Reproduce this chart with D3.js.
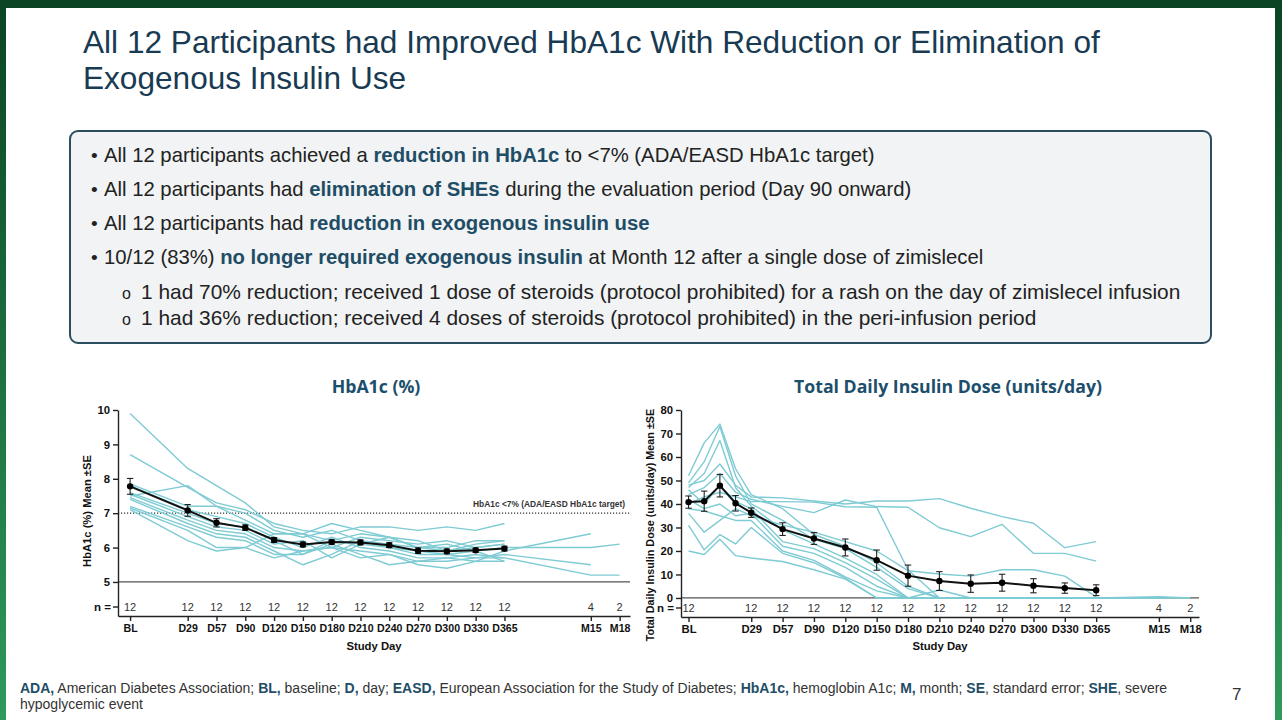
<!DOCTYPE html>
<html>
<head>
<meta charset="utf-8">
<script src="https://cdn.jsdelivr.net/npm/d3@7"></script>
<style>
  html, body { margin: 0; padding: 0; background: #fff; }
  svg { display: block; font-family: "Liberation Sans", Arial, sans-serif; }
</style>
</head>
<body>
<svg id="slide" width="1282" height="720"></svg>
<script>
// ---- text content ----
const titleLines = [
  "All 12 Participants had Improved HbA1c With Reduction or Elimination of",
  "Exogenous Insulin Use"
];

// [text, bold]
const bullets = [
  [["All 12 participants achieved a ", false], ["reduction in HbA1c", true], [" to <7% (ADA/EASD HbA1c target)", false]],
  [["All 12 participants had ", false], ["elimination of SHEs", true], [" during the evaluation period (Day 90 onward)", false]],
  [["All 12 participants had ", false], ["reduction in exogenous insulin use", true]],
  [["10/12 (83%) ", false], ["no longer required exogenous insulin", true], [" at Month 12 after a single dose of zimislecel", false]]
];
const subBullets = [
  "1 had 70% reduction; received 1 dose of steroids (protocol prohibited) for a rash on the day of zimislecel infusion",
  "1 had 36% reduction; received 4 doses of steroids (protocol prohibited) in the peri-infusion period"
];

const footnote = [
  [["ADA,", true], [" American Diabetes Association; ", false], ["BL,", true], [" baseline; ", false], ["D,", true], [" day; ", false],
   ["EASD,", true], [" European Association for the Study of Diabetes; ", false], ["HbA1c,", true], [" hemoglobin A1c; ", false],
   ["M,", true], [" month; ", false], ["SE", true], [", standard error; ", false], ["SHE", true], [", severe", false]],
  [["hypoglycemic event", false]]
];

// ---- HbA1c panel data ----
const hbaVisits = ["BL", "D29", "D57", "D90", "D120", "D150", "D180", "D210", "D240", "D270", "D300", "D330", "D365", "M15", "M18"];
const hbaSlots  = [0, 2, 3, 4, 5, 6, 7, 8, 9, 10, 11, 12, 13, 16, 17];
const hbaN      = [12, 12, 12, 12, 12, 12, 12, 12, 12, 12, 12, 12, 12, 4, 2];
const hbaMean   = [7.78, 7.08, 6.72, 6.58, 6.22, 6.09, 6.16, 6.15, 6.07, 5.91, 5.89, 5.92, 5.97];
const hbaSE     = [0.23, 0.17, 0.12, 0.08, 0.07, 0.07, 0.06, 0.07, 0.07, 0.08, 0.07, 0.06, 0.07];
const hbaTicks  = [5, 6, 7, 8, 9, 10];
const hbaTarget = 7;
const hbaFloor  = 5;
const hbaTargetLabel = "HbA1c <7% (ADA/EASD HbA1c target)";

const hbaPatients = [
  [9.9, 8.3, 7.8, 7.3, 6.6, 6.4, 6.7, 6.5, 6.3, 6.0, 5.9, 6.1, 6.2, null, null],
  [8.7, 7.75, 7.3, 7.1, 6.7, 6.5, 6.4, 6.6, 6.6, 6.5, 6.6, 6.5, 6.7, null, null],
  [7.5, 7.8, 7.2, 7.0, 6.5, 6.3, 6.5, 6.2, 6.0, 5.8, 5.8, 5.7, 5.8, 5.5, null],
  [7.85, 7.2, 7.2, 6.8, 6.4, 6.4, 6.0, 6.3, 6.2, 6.1, 6.2, 6.0, 6.1, null, null],
  [7.8, 7.1, 6.9, 6.7, 6.3, 6.0, 6.3, 6.0, 5.9, 5.7, 5.7, 5.8, 5.7, 5.2, 5.2],
  [7.6, 7.0, 6.7, 6.6, 6.2, 5.8, 6.1, 5.8, 5.5, 5.6, 5.7, 5.6, 5.6, null, null],
  [7.55, 6.9, 6.6, 6.5, 6.1, 6.2, 5.7, 6.1, 6.0, 5.9, 5.8, 5.9, 6.0, 6.0, 6.1],
  [7.45, 6.8, 6.5, 6.4, 6.0, 5.9, 6.0, 5.9, 5.8, 5.5, 5.4, 5.6, 5.9, 6.4, null],
  [7.4, 6.7, 6.4, 6.3, 5.9, 5.5, 5.8, 6.2, 6.1, 6.0, 6.0, 6.2, 6.2, null, null],
  [7.2, 6.6, 6.3, 6.2, 5.8, 5.8, 6.2, 6.4, 6.3, 6.2, 5.9, 6.0, 6.1, null, null],
  [7.15, 6.5, 6.0, 6.0, 5.7, 5.9, 6.0, 5.7, 5.8, 5.6, 5.6, 5.7, 5.7, null, null],
  [7.1, 6.2, 5.9, 6.0, 6.4, 6.4, 6.2, 6.1, 6.3, 6.0, 6.1, 5.9, 5.6, null, null]
];

// ---- insulin panel data ----
const insVisits = ["BL", "", "", "", "D29", "D57", "D90", "D120", "D150", "D180", "D210", "D240", "D270", "D300", "D330", "D365", "M15", "M18"];
const insSlots  = [0, 0.5, 1, 1.5, 2, 3, 4, 5, 6, 7, 8, 9, 10, 11, 12, 13, 15, 16];
const insN      = [12, null, null, null, 12, 12, 12, 12, 12, 12, 12, 12, 12, 12, 12, 12, 4, 2];
const insMean   = [40.8, 41.2, 47.8, 40.3, 36.3, 29.3, 25.3, 21.5, 16.1, 9.5, 7.2, 6.1, 6.5, 5.2, 4.2, 3.3];
const insSE     = [2.6, 4.3, 4.8, 3.3, 2.0, 2.7, 2.5, 3.6, 4.3, 4.5, 4.0, 3.7, 3.6, 3.0, 2.2, 2.3];
const insTicks  = [0, 10, 20, 30, 40, 50, 60, 70, 80];

const insPatients = [
  [48, 50, 57, 48, 43, 42.6, 41.3, 40, 41.3, 41.3, 42.3, 38.2, 34.6, 31.8, 21.4, 24, null, null],
  [44, 47, 53, 45, 42, 39, 36.3, 41.7, 38.9, 38.6, 29.9, 26.1, 31.3, 19, 19, 15.7, null, null],
  [40, 43, 45, 43, 41, 41, 40.8, 38.8, 38.6, 12, 0, 0, 0, 0, 0, 0, 0.5, 0],
  [36, 28, 33, 38, 35, 31, 28, 24, 20, 11.6, 10.2, 9.3, 12, 12, 9.3, 0.5, null, null],
  [52, 66, 74, 55, 44, 38, 27, 22, 15, 5, 0, 0, 0, 0, 0, 0, 0, 0],
  [49, 58, 73, 52, 40, 33, 25, 21, 13, 4, 0, 0, 0, 0, 0, 0, null, null],
  [47, 53, 67, 47, 39, 29, 23, 17, 10, 0, 3.4, 0, 0, 0, 0, 0, 0, null],
  [46, 40, 48, 41, 38, 24, 21, 15, 8, 0, 0, 0, 0, 0, 0, 0, null, null],
  [42, 38, 40, 35, 36, 22, 19, 13, 5, 0, 0, 0, 0, 0, 0, 0, 0, null],
  [38, 37, 35, 33, 33, 20, 16, 9, 3, 0, 0, 0, 0, 0, 0, 0, null, null],
  [31, 20.5, 27, 23, 30, 19, 15, 8.5, 0, 0, 0, 0, 0, 0, 0, 0, null, null],
  [20, 18.5, 25, 18, 17, 15.5, 12, 8, 0, 0, 0, 0, 0, 0, 0, 0, null, null]
];

// ---- colours ----
const NAVY = "#183a52";
const TEAL_BOLD = "#1f4d66";
const CYAN = "#7fcbd4";
const INK = "#222";

const svg = d3.select("#slide");

// slide frame
const grad = svg.append("defs").append("linearGradient")
  .attr("id", "side").attr("x1", 0).attr("y1", 0).attr("x2", 0).attr("y2", 1);
grad.append("stop").attr("offset", "0%").attr("stop-color", "#0a4424");
grad.append("stop").attr("offset", "100%").attr("stop-color", "#2f9a5b");

svg.append("rect").attr("width", 1282).attr("height", 720).attr("fill", "#fff");
svg.append("rect").attr("x", 0).attr("y", 0).attr("width", 6).attr("height", 720).attr("fill", "url(#side)");
svg.append("rect").attr("x", 1275).attr("y", 0).attr("width", 7).attr("height", 720).attr("fill", "url(#side)");
svg.append("rect").attr("x", 0).attr("y", 0).attr("width", 1282).attr("height", 8).attr("fill", "#0a4424");

// title
svg.append("g").selectAll("text").data(titleLines).join("text")
  .attr("x", 83).attr("y", (d, i) => 53 + i * 36)
  .attr("font-size", 31.6).attr("fill", NAVY)
  .text(d => d);

// rich text helper
function richLine(parent, segs, x, y, size, boldColor, plainColor) {
  const t = parent.append("text").attr("x", x).attr("y", y).attr("font-size", size);
  segs.forEach(([s, b]) => {
    t.append("tspan")
      .attr("font-weight", b ? "bold" : "normal")
      .attr("fill", b ? boldColor : plainColor)
      .text(s);
  });
  return t;
}

// summary box
const box = svg.append("g");
box.append("rect")
  .attr("x", 70).attr("y", 131).attr("width", 1141).attr("height", 212).attr("rx", 8)
  .attr("fill", "#f1f3f4").attr("stroke", "#2b4d5e").attr("stroke-width", 2);

bullets.forEach((segs, i) => {
  const y = 162 + i * 34;
  box.append("text").attr("x", 91).attr("y", y).attr("font-size", 19).attr("fill", INK).text("•");
  richLine(box, segs, 104, y, 20.3, TEAL_BOLD, INK);
});
subBullets.forEach((s, i) => {
  const y = 299 + i * 25.5;
  box.append("text").attr("x", 122).attr("y", y).attr("font-size", 16).attr("fill", INK).text("o");
  box.append("text").attr("x", 141).attr("y", y).attr("font-size", 20.9).attr("fill", INK).text(s);
});

// footnote
footnote.forEach((segs, i) => richLine(svg, segs, 20, 693 + i * 16, 14, TEAL_BOLD, "#333"));
svg.append("text").attr("x", 1232).attr("y", 700).attr("font-size", 17).attr("fill", "#333").text("7");

// ---- chart panel ----
function drawPanel(o) {
  const g = svg.append("g");
  const x = d3.scaleLinear().domain(o.xDomain).range(o.xRange);
  const y = d3.scaleLinear().domain(o.yDomain).range(o.yRange);
  const [x0, x1] = o.xRange;
  const yBase = o.yRange[0];

  // title
  g.append("text")
    .attr("x", o.titleX).attr("y", 393)
    .attr("text-anchor", "middle")
    .attr("font-family", "'Open Sans', 'Noto Sans', sans-serif")
    .attr("font-weight", "bold").attr("font-size", 17.7)
    .attr("fill", "#1c4f6c")
    .text(o.title);

  // reference lines
  o.refs.forEach(r => {
    g.append("line")
      .attr("x1", x0).attr("x2", x1)
      .attr("y1", y(r.value)).attr("y2", y(r.value))
      .attr("stroke", r.dotted ? "#333" : "#555")
      .attr("stroke-width", r.dotted ? 1.1 : 1.3)
      .attr("stroke-dasharray", r.dotted ? "1.2,1.8" : null);
    if (r.label) {
      g.append("text")
        .attr("x", x1 - 5).attr("y", y(r.value) - 6)
        .attr("text-anchor", "end")
        .attr("font-size", 8.4).attr("font-weight", "bold").attr("fill", "#333")
        .text(r.label);
    }
  });

  // individual participants
  const line = d3.line()
    .defined(d => d[1] != null)
    .x(d => x(d[0]))
    .y(d => y(d[1]));

  g.append("g").selectAll("path").data(o.patients).join("path")
    .attr("d", p => line(p.map((v, i) => [o.slots[i], v])))
    .attr("fill", "none")
    .attr("stroke", CYAN)
    .attr("stroke-width", 1.4)
    .attr("stroke-linejoin", "round");

  // mean +- SE
  const meanPts = o.mean.map((m, i) => ({ s: o.slots[i], m, se: o.se[i] }));
  g.append("path")
    .attr("d", d3.line().x(d => x(d.s)).y(d => y(d.m))(meanPts))
    .attr("fill", "none").attr("stroke", "#111").attr("stroke-width", 2);

  const eb = g.append("g").selectAll("g").data(meanPts).join("g");
  eb.append("line")
    .attr("x1", d => x(d.s)).attr("x2", d => x(d.s))
    .attr("y1", d => y(d.m - d.se)).attr("y2", d => y(d.m + d.se))
    .attr("stroke", "#222").attr("stroke-width", 1.1);
  [-1, 1].forEach(k => {
    eb.append("line")
      .attr("x1", d => x(d.s) - 3.2).attr("x2", d => x(d.s) + 3.2)
      .attr("y1", d => y(d.m + k * d.se)).attr("y2", d => y(d.m + k * d.se))
      .attr("stroke", "#222").attr("stroke-width", 1.1);
  });
  eb.append("circle")
    .attr("cx", d => x(d.s)).attr("cy", d => y(d.m)).attr("r", 3.2)
    .attr("fill", "#000");

  // y axis
  const ya = g.append("g")
    .attr("transform", `translate(${x0},0)`)
    .call(d3.axisLeft(y).tickValues(o.yTicks).tickFormat(d3.format("d"))
      .tickSize(5).tickSizeOuter(0).tickPadding(3));
  ya.select(".domain").attr("stroke", INK).attr("stroke-width", 1.4);
  ya.selectAll(".tick line").attr("stroke", INK).attr("stroke-width", 1.4);
  ya.selectAll(".tick text").attr("font-size", 11.3).attr("font-weight", "bold").attr("fill", "#111")
    .attr("font-family", "'Liberation Sans', Arial, sans-serif");

  // x axis
  const labelled = o.visits.map((v, i) => ({ v, s: o.slots[i], n: o.n[i] })).filter(d => d.v !== "");
  const xa = g.append("g")
    .attr("transform", `translate(0,${yBase})`)
    .call(d3.axisBottom(x)
      .tickValues(labelled.map(d => d.s))
      .tickFormat((d, i) => labelled[i].v)
      .tickSize(5).tickSizeOuter(0).tickPadding(3));
  xa.select(".domain").attr("stroke", INK).attr("stroke-width", 1.4);
  xa.selectAll(".tick line").attr("stroke", INK).attr("stroke-width", 1.4);
  xa.selectAll(".tick text").attr("font-size", o.xLabelSize).attr("font-weight", "bold").attr("fill", "#111")
    .attr("font-family", "'Liberation Sans', Arial, sans-serif");

  // n row
  const nY = o.nRowY;
  g.append("line").attr("x1", x0 - 5).attr("x2", x0).attr("y1", nY).attr("y2", nY)
    .attr("stroke", INK).attr("stroke-width", 1.4);
  g.append("text").attr("x", x0 - 7).attr("y", nY + 4)
    .attr("text-anchor", "end").attr("font-size", 11.5).attr("font-weight", "bold").attr("fill", "#111")
    .text("n =");
  g.append("g").selectAll("text").data(labelled).join("text")
    .attr("x", d => x(d.s)).attr("y", nY + 4)
    .attr("text-anchor", "middle").attr("font-size", 11).attr("fill", "#333")
    .text(d => d.n);

  // axis titles
  g.append("text")
    .attr("x", (x0 + x1) / 2).attr("y", 650)
    .attr("text-anchor", "middle").attr("font-size", 11.3).attr("font-weight", "bold").attr("fill", "#111")
    .text("Study Day");
  g.append("text")
    .attr("transform", `translate(${o.yTitleX},${o.yTitleY}) rotate(-90)`)
    .attr("text-anchor", "middle").attr("font-size", o.yTitleSize).attr("font-weight", "bold").attr("fill", "#111")
    .text(o.yTitle);
}

drawPanel({
  title: "HbA1c (%)", titleX: 376,
  visits: hbaVisits, slots: hbaSlots, n: hbaN,
  mean: hbaMean, se: hbaSE, patients: hbaPatients,
  xDomain: [-0.42, 17.36], xRange: [118, 630],
  yDomain: [4.01, 10], yRange: [616, 410], yTicks: hbaTicks,
  refs: [{ value: hbaFloor }, { value: hbaTarget, dotted: true, label: hbaTargetLabel }],
  nRowY: 607, xLabelSize: 10.6,
  yTitle: "HbA1c (%) Mean ±SE", yTitleX: 91, yTitleY: 511, yTitleSize: 11.2
});

drawPanel({
  title: "Total Daily Insulin Dose (units/day)", titleX: 948,
  visits: insVisits, slots: insSlots, n: insN,
  mean: insMean, se: insSE, patients: insPatients,
  xDomain: [-0.24, 16.28], xRange: [681, 1199],
  yDomain: [-8.1, 80], yRange: [617, 410], yTicks: insTicks,
  refs: [{ value: 0 }],
  nRowY: 608, xLabelSize: 11.3,
  yTitle: "Total Daily Insulin Dose (units/day) Mean ±SE", yTitleX: 654, yTitleY: 525, yTitleSize: 10.8
});
</script>
</body>
</html>
